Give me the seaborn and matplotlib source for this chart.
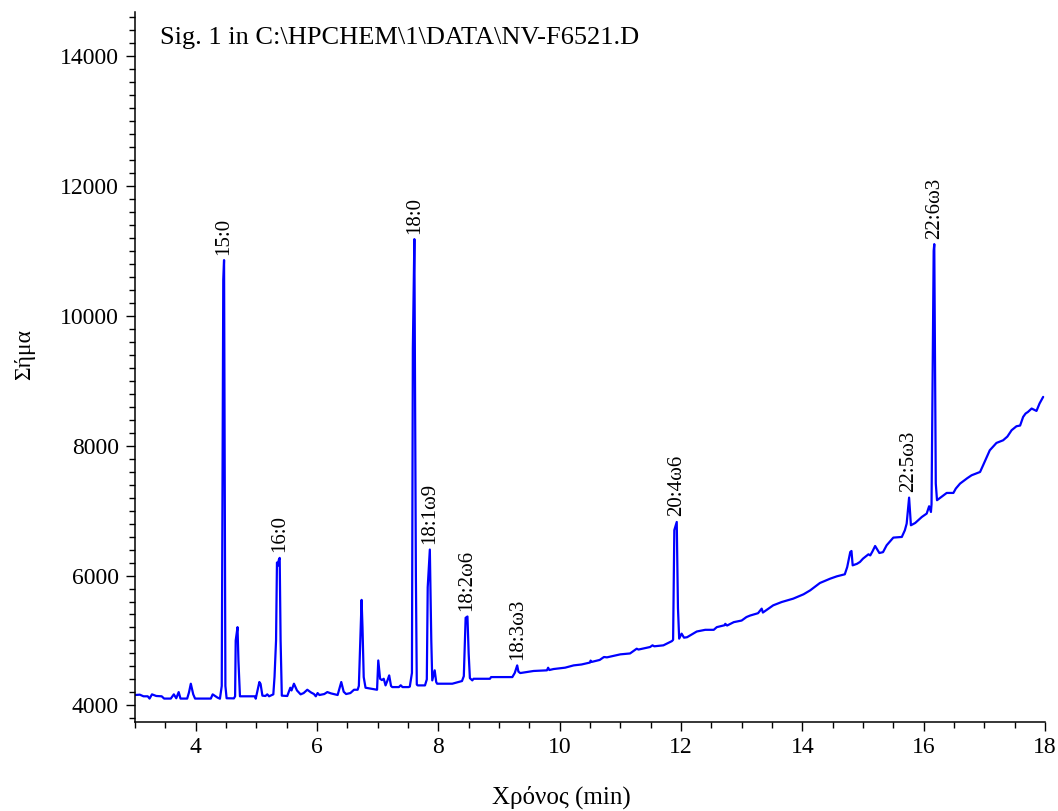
import numpy as np
import pandas as pd
import matplotlib
matplotlib.use("Agg")
import matplotlib.pyplot as plt
from matplotlib.ticker import MultipleLocator
import seaborn as sns

# Chromatogram trace: retention time (min) and signal
time_min = [
    3.00, 3.08, 3.14, 3.21, 3.24, 3.28, 3.35, 3.44, 3.48, 3.59, 3.64, 3.68, 3.72, 3.75, 3.86, 3.89, 3.92,
    3.96, 3.99, 4.25, 4.28, 4.36, 4.40, 4.43, 4.455, 4.468, 4.49, 4.51,
    4.63, 4.65, 4.66, 4.69, 4.705, 4.73, 4.98, 4.99, 5.05, 5.07, 5.10, 5.15, 5.18, 5.21, 5.28, 5.30,
    5.325, 5.34, 5.355, 5.37, 5.385, 5.40, 5.42,
    5.51, 5.56, 5.58, 5.62, 5.67, 5.73, 5.78, 5.84, 5.90, 5.95, 5.98, 6.01, 6.04, 6.12, 6.17, 6.23, 6.34,
    6.40, 6.44, 6.48, 6.55, 6.61, 6.67, 6.69, 6.72, 6.735, 6.75, 6.77, 6.80, 6.99,
    7.01, 7.04, 7.07, 7.10, 7.13, 7.16, 7.19, 7.22, 7.24, 7.35, 7.38, 7.41, 7.51,
    7.53, 7.565, 7.58, 7.605, 7.63, 7.645, 7.66, 7.78, 7.81, 7.825, 7.86, 7.884, 7.90, 7.94, 7.965, 7.98,
    8.23, 8.39, 8.42, 8.45, 8.48, 8.50, 8.52, 8.56, 8.58, 8.85, 8.87, 9.22, 9.26, 9.30, 9.32, 9.35,
    9.57, 9.79, 9.81, 9.83, 9.90, 10.09, 10.23, 10.36, 10.50, 10.51, 10.53, 10.66, 10.73, 10.78, 11.00,
    11.16, 11.27, 11.30, 11.49, 11.53, 11.56, 11.71, 11.80, 11.85, 11.87, 11.89, 11.93, 11.95, 11.97,
    12.01, 12.05, 12.10, 12.26, 12.40, 12.54, 12.59, 12.72, 12.73, 12.76, 12.87, 13.00, 13.08, 13.14,
    13.27, 13.33, 13.35, 13.52, 13.66, 13.85, 14.02, 14.13, 14.29, 14.46, 14.57, 14.70, 14.74, 14.79,
    14.81, 14.83, 14.90, 14.95, 15.00, 15.09, 15.12, 15.16, 15.20, 15.27, 15.33, 15.39, 15.50, 15.64,
    15.69, 15.72, 15.76, 15.79, 15.86, 15.97, 16.05, 16.09, 16.12, 16.13, 16.165, 16.175, 16.20, 16.22,
    16.38, 16.49, 16.53, 16.60, 16.72, 16.79, 16.93, 16.98, 17.09, 17.20, 17.31, 17.38, 17.45, 17.53,
    17.59, 17.64, 17.68, 17.72, 17.78, 17.86, 17.91, 17.97,
]
signal = [
    4160, 4165, 4140, 4140, 4105, 4170, 4145, 4140, 4105, 4105, 4170, 4110, 4205, 4105, 4105, 4200, 4334,
    4170, 4105, 4105, 4170, 4120, 4103, 4300, 10560, 10858, 4300, 4110,
    4108, 4140, 5000, 5205, 4690, 4140, 4140, 4103, 4360, 4330, 4150, 4145, 4170, 4140, 4170, 4440,
    5000, 6200, 6150, 6240, 6272, 5000, 4150,
    4145, 4272, 4230, 4334, 4230, 4170, 4190, 4241, 4200, 4175, 4140, 4190, 4160, 4175, 4205, 4185, 4160,
    4360, 4210, 4175, 4190, 4241, 4241, 4300, 5150, 5625, 5200, 4436, 4272, 4241,
    4692, 4410, 4390, 4410, 4308, 4380, 4462, 4300, 4282, 4282, 4310, 4282, 4282,
    4290, 4500, 9500, 11181, 6000, 4320, 4308, 4308, 4400, 5820, 6400, 5000, 4385, 4540, 4360, 4334,
    4334, 4375, 4450, 5349, 5369, 4800, 4420, 4385, 4410, 4410, 4436, 4436, 4500, 4616, 4520, 4498,
    4530, 4540, 4580, 4545, 4560, 4581, 4616, 4630, 4660, 4690, 4670, 4700, 4745, 4740, 4786,
    4800, 4873, 4860, 4899, 4925, 4910, 4925, 4966, 4990, 5010, 6700, 6825, 5500, 5028,
    5105, 5043, 5050, 5138, 5164, 5164, 5205, 5235, 5256, 5230, 5282, 5307, 5361, 5384,
    5420, 5490, 5430, 5541, 5592, 5644, 5711, 5772, 5885, 5952, 5988, 6019, 6131, 6362,
    6378, 6157, 6180, 6209, 6260, 6327, 6310, 6378, 6455, 6347, 6360, 6466, 6584, 6594,
    6697, 6800, 7200, 6774, 6809, 6902, 6954, 7067, 6979, 7100, 11000, 11104, 7416, 7160,
    7272, 7272, 7339, 7416, 7500, 7544, 7595, 7698, 7929, 8042, 8083, 8140, 8238, 8299,
    8310, 8443, 8495, 8520, 8572, 8535, 8649, 8751,
]

# Peak annotations
peak_names = ["15:0", "16:0", "18:0", "18:1ω9", "18:2ω6", "18:3ω3", "20:4ω6", "22:5ω3", "22:6ω3"]
peak_times = [4.468, 5.385, 7.605, 7.86, 8.47, 9.30, 11.93, 15.76, 16.175]
peak_heights = [10858, 6272, 11181, 6400, 5369, 4616, 6825, 7200, 11104]

title_text = "Sig. 1 in C:\\HPCHEM\\1\\DATA\\NV-F6521.D"
x_label = "Χρόνος (min)"
y_label = "Σήμα"

sns.set_style("ticks")
plt.rcParams['font.family'] = ['Liberation Serif', 'DejaVu Serif']
plt.rcParams['text.color'] = 'black'
plt.rcParams['axes.labelcolor'] = 'black'
plt.rcParams['xtick.color'] = 'black'
plt.rcParams['ytick.color'] = 'black'

fig = plt.figure(figsize=(10.58, 8.11), dpi=100)
ax = fig.add_axes([0.1276, 0.1098, 0.8601, 0.8755])

df = pd.DataFrame({"t": time_min, "s": signal})
sns.lineplot(data=df, x="t", y="s", ax=ax, color="#0000ff", linewidth=1.6,
             estimator=None, sort=False)

ax.set_xlim(3, 18)
ax.set_ylim(3745, 14680)
ax.xaxis.set_major_locator(MultipleLocator(2))
ax.xaxis.set_minor_locator(MultipleLocator(0.5))
ax.yaxis.set_major_locator(MultipleLocator(2000))
ax.yaxis.set_minor_locator(MultipleLocator(200))

for side in ("top", "right"):
    ax.spines[side].set_visible(False)
for side in ("left", "bottom"):
    ax.spines[side].set_linewidth(1.1)
    ax.spines[side].set_color("black")

ax.tick_params(axis="both", which="major", direction="out", length=6.5, width=1.0,
               labelsize=17, colors="black", labelcolor="black", pad=5)
ax.tick_params(axis="both", which="minor", direction="out", length=4.3, width=1.0, colors="black")
ax.tick_params(axis="x", which="major", pad=4)

ax.set_xlabel(x_label, fontsize=18, color="black")
ax.set_ylabel(y_label, fontsize=17, color="black")
ax.xaxis.set_label_coords(0.469, -0.106)
ax.xaxis.label.set_va("center")
ax.yaxis.set_label_coords(-0.121, 0.517)
ax.yaxis.label.set_va("center")

ax.text(0.0275, 0.963, title_text, transform=ax.transAxes, ha="left", va="center",
        fontsize=19, color="black")

for name, t, h in zip(peak_names, peak_times, peak_heights):
    ax.annotate(name, xy=(t, h), xytext=(0, 4), textcoords="offset points",
                rotation=90, ha="center", va="bottom", fontsize=15, color="black")

fig.savefig("out.png", dpi=100)
